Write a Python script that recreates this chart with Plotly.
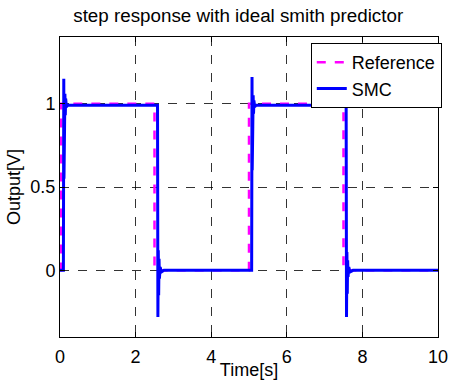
import plotly.graph_objects as go

# Reference square wave (time, value)
ref_t = [0, 0.03, 0.03, 2.5, 2.5, 5.0, 5.0, 7.5, 7.5, 10]
ref_y = [0, 0, 1, 1, 0, 0, 1, 1, 0, 0]

# SMC response (time, value)
smc_t = [0, 0.09, 0.10, 0.105, 0.11, 0.12, 0.13, 0.14, 0.15, 0.17, 0.2,
         1.0, 2.0, 2.58, 2.59, 2.60, 2.61, 2.62, 2.63, 2.65, 2.68, 2.75,
         3.5, 4.5, 5.07, 5.08, 5.085, 5.09, 5.10, 5.11, 5.12, 5.13, 5.15, 5.18,
         6.0, 7.0, 7.57, 7.58, 7.59, 7.60, 7.61, 7.62, 7.64, 7.67, 7.75,
         8.5, 9.5, 10]
smc_y = [0, 0, 1.15, 0.55, 1.10, 0.85, 1.06, 0.93, 1.03, 0.98, 0.99,
         0.99, 0.99, 0.99, -0.28, 0.12, -0.15, 0.07, -0.05, 0.02, -0.01, 0.0,
         0.0, 0.0, 0.0, 1.16, 0.6, 1.09, 0.86, 1.05, 0.94, 1.02, 0.98, 0.99,
         0.99, 0.99, 0.99, -0.28, 0.11, -0.14, 0.06, -0.04, 0.02, -0.01, 0.0,
         0.0, 0.0, 0.0]

x_ticks = [0, 2, 4, 6, 8, 10]
y_ticks = [0, 0.5, 1]

fig = go.Figure()
fig.add_trace(go.Scatter(x=ref_t, y=ref_y, mode="lines", name="Reference",
                         line=dict(color="#ff00ff", width=2.5, dash="dash")))
fig.add_trace(go.Scatter(x=smc_t, y=smc_y, mode="lines", name="SMC",
                         line=dict(color="#0000ff", width=3)))

font = "Liberation Sans, Arial, sans-serif"
axis_common = dict(showline=True, linecolor="black", linewidth=1, mirror="ticks",
                   ticks="inside", ticklen=5, tickcolor="black", automargin=False,
                   showgrid=True, gridcolor="rgba(0,0,0,0.8)", griddash="dash", gridwidth=1,
                   zeroline=False, tickfont=dict(size=18, color="black", family=font))

fig.update_layout(
    width=452, height=380,
    margin=dict(l=60, r=10, t=37, b=43),
    plot_bgcolor="white", paper_bgcolor="white",
    font=dict(family=font, color="black", size=18),
    title=dict(text="step response with ideal smith predictor", x=0.527, xanchor="center",
               y=1 - 15/380, yanchor="middle", font=dict(size=18.8, family=font, color="black")),
    xaxis=dict(range=[0, 10], tickvals=x_ticks, ticktext=[str(v) for v in x_ticks],
               ticklabelstandoff=3,
               title=dict(text="Time[s]", standoff=0, font=dict(size=18)), **axis_common),
    yaxis=dict(range=[-0.4, 1.4], tickvals=y_ticks, ticktext=["0", "0.5", "1"],
               title=dict(text="Output[V]", standoff=5, font=dict(size=18)), **axis_common),
    legend=dict(x=1.01, y=0.98, xanchor="right", yanchor="top",
                bgcolor="white", bordercolor="black", borderwidth=1,
                font=dict(size=18, family=font, color="black"),
                tracegroupgap=0, itemwidth=30),
    showlegend=True,
)

fig.write_html("out.html")
